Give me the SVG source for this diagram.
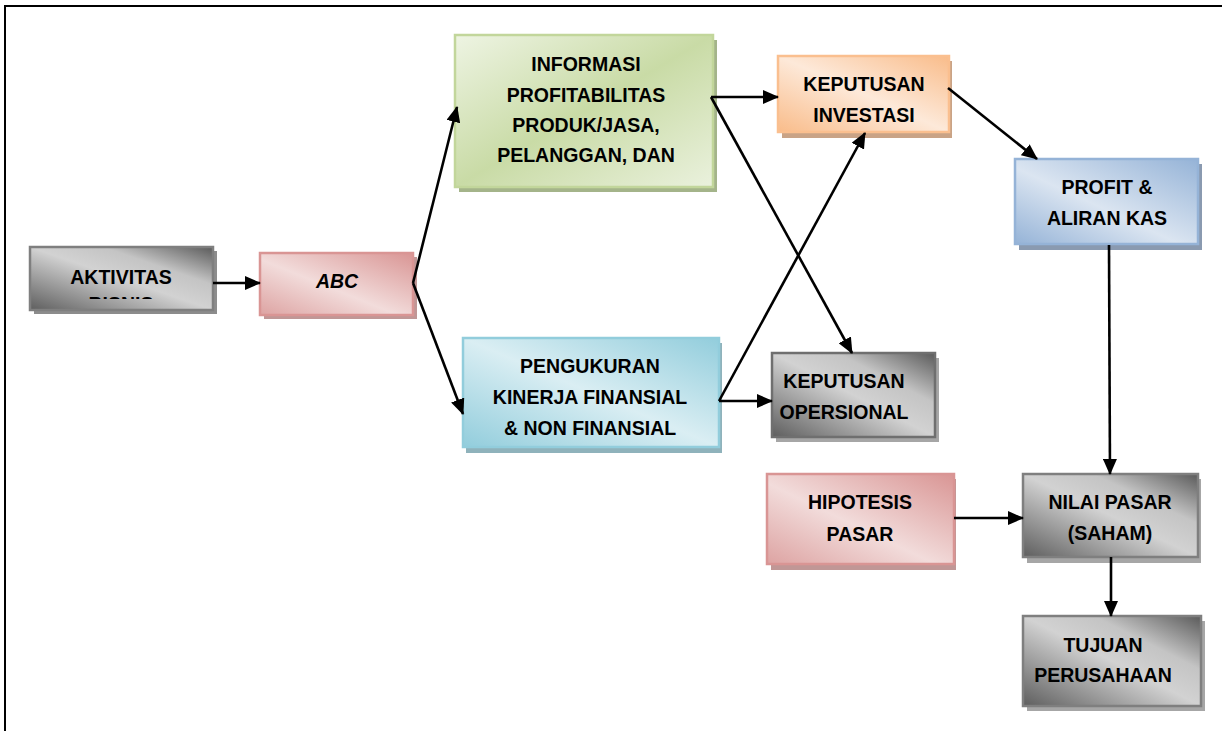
<svg xmlns="http://www.w3.org/2000/svg" width="1222" height="731" viewBox="0 0 1222 731">
<style>
  text{font-family:"Liberation Sans",Arial,sans-serif;font-weight:bold;font-size:19.5px;fill:#000;text-anchor:middle}
  .box{stroke-width:2.5}
  .con{stroke:#000;stroke-width:2.6;fill:none;marker-end:url(#ah)}
</style>
<defs>
  <marker id="ah" viewBox="0 0 16 14" refX="15" refY="7" markerWidth="16" markerHeight="14" orient="auto" markerUnits="userSpaceOnUse">
    <path d="M0,0 L16,7 L0,14 z" fill="#000"/>
  </marker>
  <linearGradient id="gGray" x1="0" y1="1" x2="1" y2="0">
    <stop offset="0" stop-color="#5e5e5e"/>
    <stop offset="0.5" stop-color="#d2d2d2"/>
    <stop offset="0.7" stop-color="#c4c4c4"/>
    <stop offset="1" stop-color="#5a5a5a"/>
  </linearGradient>
  <linearGradient id="gPink" x1="0" y1="1" x2="1" y2="0">
    <stop offset="0" stop-color="#dda3a2"/>
    <stop offset="0.45" stop-color="#f2dcdb"/>
    <stop offset="1" stop-color="#d99594"/>
  </linearGradient>
  <linearGradient id="gGreen" x1="0" y1="0" x2="1" y2="1">
    <stop offset="0" stop-color="#eef4e3"/>
    <stop offset="0.5" stop-color="#c9dba6"/>
    <stop offset="1" stop-color="#eaf1dd"/>
  </linearGradient>
  <linearGradient id="gOrange" x1="0" y1="1" x2="1" y2="0">
    <stop offset="0" stop-color="#f9bc8a"/>
    <stop offset="0.5" stop-color="#fde9d9"/>
    <stop offset="1" stop-color="#f9bc8a"/>
  </linearGradient>
  <linearGradient id="gBlue" x1="0" y1="1" x2="1" y2="0">
    <stop offset="0" stop-color="#95b3d7"/>
    <stop offset="0.45" stop-color="#dbe5f1"/>
    <stop offset="1" stop-color="#95b3d7"/>
  </linearGradient>
  <linearGradient id="gAqua" x1="0" y1="1" x2="1" y2="0">
    <stop offset="0" stop-color="#92cddc"/>
    <stop offset="0.5" stop-color="#daeef3"/>
    <stop offset="1" stop-color="#92cddc"/>
  </linearGradient>
  <clipPath id="clipAkt"><rect x="30" y="247" width="183" height="52"/></clipPath>
</defs>

<rect width="1222" height="731" fill="#fff"/>
<g id="frame" stroke="#000" stroke-width="2" fill="none">
  <path d="M5,731 L5,6 L1222,6"/>
</g>

<g id="aktivitas">
  <rect x="34" y="251" width="183" height="63" fill="#8c8c8c"/>
  <rect class="box" x="30" y="247" width="183" height="63" fill="url(#gGray)" stroke="#7f7f7f"/>
  <text x="121" y="284">AKTIVITAS</text>
  <text x="121" y="311" clip-path="url(#clipAkt)">BISNIS</text>
</g>

<g id="abc">
  <rect x="264" y="257" width="153" height="62" fill="#c09796"/>
  <rect class="box" x="260" y="253" width="153" height="62" fill="url(#gPink)" stroke="#d99594"/>
  <text x="337" y="288" font-style="italic">ABC</text>
</g>

<g id="informasi">
  <rect x="459" y="40" width="258" height="152" fill="#a4b48a"/>
  <rect class="box" x="455" y="35" width="258" height="152" fill="url(#gGreen)" stroke="#c2d69b"/>
  <text x="586" y="71">INFORMASI</text>
  <text x="586" y="102">PROFITABILITAS</text>
  <text x="586" y="132">PRODUK/JASA,</text>
  <text x="586" y="162">PELANGGAN, DAN</text>
</g>

<g id="pengukuran">
  <rect x="466" y="343" width="256" height="110" fill="#8fb2bb"/>
  <rect class="box" x="463" y="338" width="256" height="109" fill="url(#gAqua)" stroke="#92cddc"/>
  <text x="590" y="373">PENGUKURAN</text>
  <text x="590" y="404">KINERJA FINANSIAL</text>
  <text x="590" y="435">&amp; NON FINANSIAL</text>
</g>

<g id="keputusan-investasi">
  <rect x="782" y="61" width="170" height="77" fill="#c9a386"/>
  <rect class="box" x="778" y="56" width="171" height="76" fill="url(#gOrange)" stroke="#fabf8f"/>
  <text x="864" y="91">KEPUTUSAN</text>
  <text x="864" y="122">INVESTASI</text>
</g>

<g id="keputusan-opersional">
  <rect x="776" y="358" width="163" height="84" fill="#a6a6a6"/>
  <rect class="box" x="772" y="353" width="163" height="84" fill="url(#gGray)" stroke="#6f6f6f"/>
  <text x="844" y="388">KEPUTUSAN</text>
  <text x="844" y="419">OPERSIONAL</text>
</g>

<g id="profit">
  <rect x="1019" y="164" width="183" height="86" fill="#8a9ab0"/>
  <rect class="box" x="1015" y="159" width="183" height="85" fill="url(#gBlue)" stroke="#95b3d7"/>
  <text x="1107" y="194">PROFIT &amp;</text>
  <text x="1107" y="225">ALIRAN KAS</text>
</g>

<g id="hipotesis">
  <rect x="771" y="479" width="185" height="91" fill="#c09796"/>
  <rect class="box" x="767" y="474" width="187" height="90" fill="url(#gPink)" stroke="#d99594"/>
  <text x="860" y="509">HIPOTESIS</text>
  <text x="860" y="541">PASAR</text>
</g>

<g id="nilai-pasar">
  <rect x="1027" y="479" width="174" height="84" fill="#a6a6a6"/>
  <rect class="box" x="1023" y="474" width="175" height="83" fill="url(#gGray)" stroke="#7f7f7f"/>
  <text x="1110" y="509">NILAI PASAR</text>
  <text x="1110" y="540">(SAHAM)</text>
</g>

<g id="tujuan">
  <rect x="1027" y="621" width="178" height="90" fill="#a6a6a6"/>
  <rect class="box" x="1023" y="616" width="178" height="90" fill="url(#gGray)" stroke="#7f7f7f"/>
  <text x="1103" y="652">TUJUAN</text>
  <text x="1103" y="682">PERUSAHAAN</text>
</g>

<g id="connectors">
  <path class="con" d="M213,283 L260,283"/>
  <path class="con" d="M413,283 L457,107"/>
  <path class="con" d="M413,283 L463,414"/>
  <path class="con" d="M711,97 L778,97"/>
  <path class="con" d="M711,97 L852,353"/>
  <path class="con" d="M719,401 L772,401"/>
  <path class="con" d="M719,401 L865,133"/>
  <path class="con" d="M948,88 L1037,159"/>
  <path class="con" d="M1109,245 L1110,474"/>
  <path class="con" d="M954,518 L1023,518"/>
  <path class="con" d="M1111,557 L1111,616"/>
</g>
</svg>
